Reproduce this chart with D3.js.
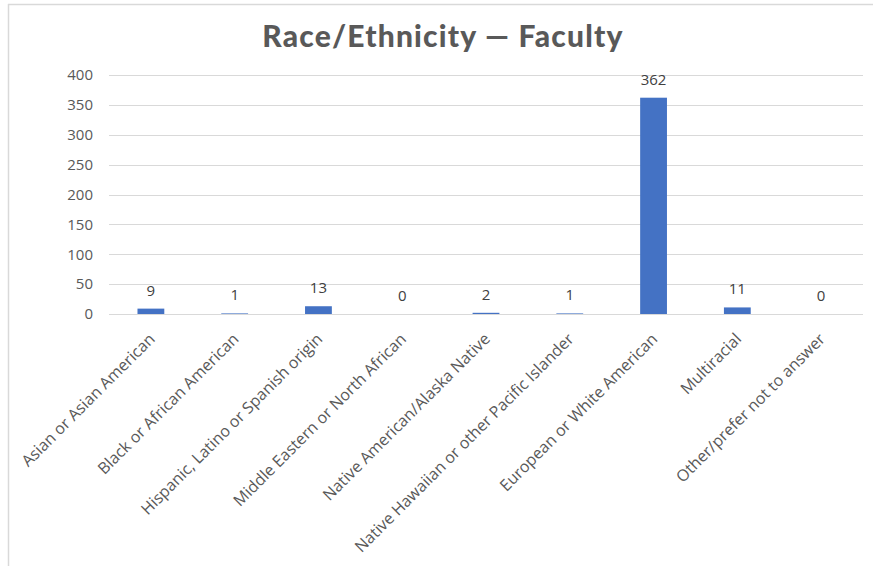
<!DOCTYPE html>
<html>
<head>
<meta charset="utf-8">
<script src="https://cdn.jsdelivr.net/npm/d3@7"></script>
<style>
    body { margin: 0; background: #fff; }
    svg { display: block; }
</style>
</head>
<body>
<svg id="chart"></svg>
<script>

// DATA

const categories = [
    "Asian or Asian American",
    "Black or African American",
    "Hispanic, Latino or Spanish origin",
    "Middle Eastern or North African",
    "Native American/Alaska Native",
    "Native Hawaiian or other Pacific Islander",
    "European or White American",
    "Multiracial",
    "Other/prefer not to answer"
];

const counts = [9, 1, 13, 0, 2, 1, 362, 11, 0];

const yTicks = [0, 50, 100, 150, 200, 250, 300, 350, 400];

const chartTitle = "Race/Ethnicity \u2014 Faculty";


// CHART

const width = 873;
const height = 566;

const svg = d3.select("#chart")
    .attr("width", width)
    .attr("height", height);

// chart frame (left and top edges visible)
svg.append("line")
    .attr("x1", 8.5).attr("x2", 8.5)
    .attr("y1", 4).attr("y2", height)
    .attr("stroke", "#d9d9d9")
    .attr("stroke-width", 1.5);

svg.append("line")
    .attr("x1", 8).attr("x2", width)
    .attr("y1", 4.5).attr("y2", 4.5)
    .attr("stroke", "#d9d9d9")
    .attr("stroke-width", 1.5);

const x = d3.scaleBand()
    .domain(categories)
    .range([109, 863])
    .paddingInner(0.68)
    .paddingOuter(0.34);

const y = d3.scaleLinear()
    .domain([0, 400])
    .range([314, 75]);

// gridlines
svg.append("g")
    .selectAll("line")
    .data(yTicks)
    .join("line")
    .attr("x1", 109)
    .attr("x2", 863)
    .attr("y1", d => Math.round(y(d)) + 0.5)
    .attr("y2", d => Math.round(y(d)) + 0.5)
    .attr("stroke", "#d9d9d9")
    .attr("stroke-width", 1);

// y axis labels
const yAxis = d3.axisLeft(y)
    .tickValues(yTicks)
    .tickSize(0)
    .tickPadding(0);

svg.append("g")
    .attr("transform", "translate(93,0)")
    .call(yAxis)
    .call(g => g.select(".domain").remove())
    .selectAll("text")
    .attr("font-family", "Open Sans")
    .attr("font-size", 15)
    .attr("fill", "#595959");

// bars
svg.append("g")
    .selectAll("rect")
    .data(categories)
    .join("rect")
    .attr("x", d => x(d))
    .attr("width", x.bandwidth())
    .attr("y", (d, i) => y(counts[i]))
    .attr("height", (d, i) => y(0) - y(counts[i]))
    .attr("fill", "#4472c4");

// value labels
svg.append("g")
    .selectAll("text")
    .data(categories)
    .join("text")
    .attr("x", d => x(d) + x.bandwidth() / 2)
    .attr("y", (d, i) => y(counts[i]) - 13)
    .attr("text-anchor", "middle")
    .attr("font-family", "Open Sans")
    .attr("font-size", 15)
    .attr("fill", "#404040")
    .text((d, i) => counts[i]);

// category labels
const xAxis = d3.axisBottom(x)
    .tickSize(0)
    .tickPadding(0);

svg.append("g")
    .attr("transform", "translate(0,314)")
    .call(xAxis)
    .call(g => g.select(".domain").remove())
    .selectAll("text")
    .attr("font-family", "Open Sans")
    .attr("font-size", 16)
    .attr("fill", "#595959")
    .attr("text-anchor", "end")
    .attr("dy", null)
    .attr("y", null)
    .attr("transform", "translate(5,26) rotate(-45)");

// title
svg.append("text")
    .attr("x", 443)
    .attr("y", 47)
    .attr("text-anchor", "middle")
    .attr("font-family", "Lato")
    .attr("font-weight", 900)
    .attr("font-size", 30)
    .attr("letter-spacing", 1.2)
    .attr("fill", "#595959")
    .text(chartTitle);

</script>
</body>
</html>
